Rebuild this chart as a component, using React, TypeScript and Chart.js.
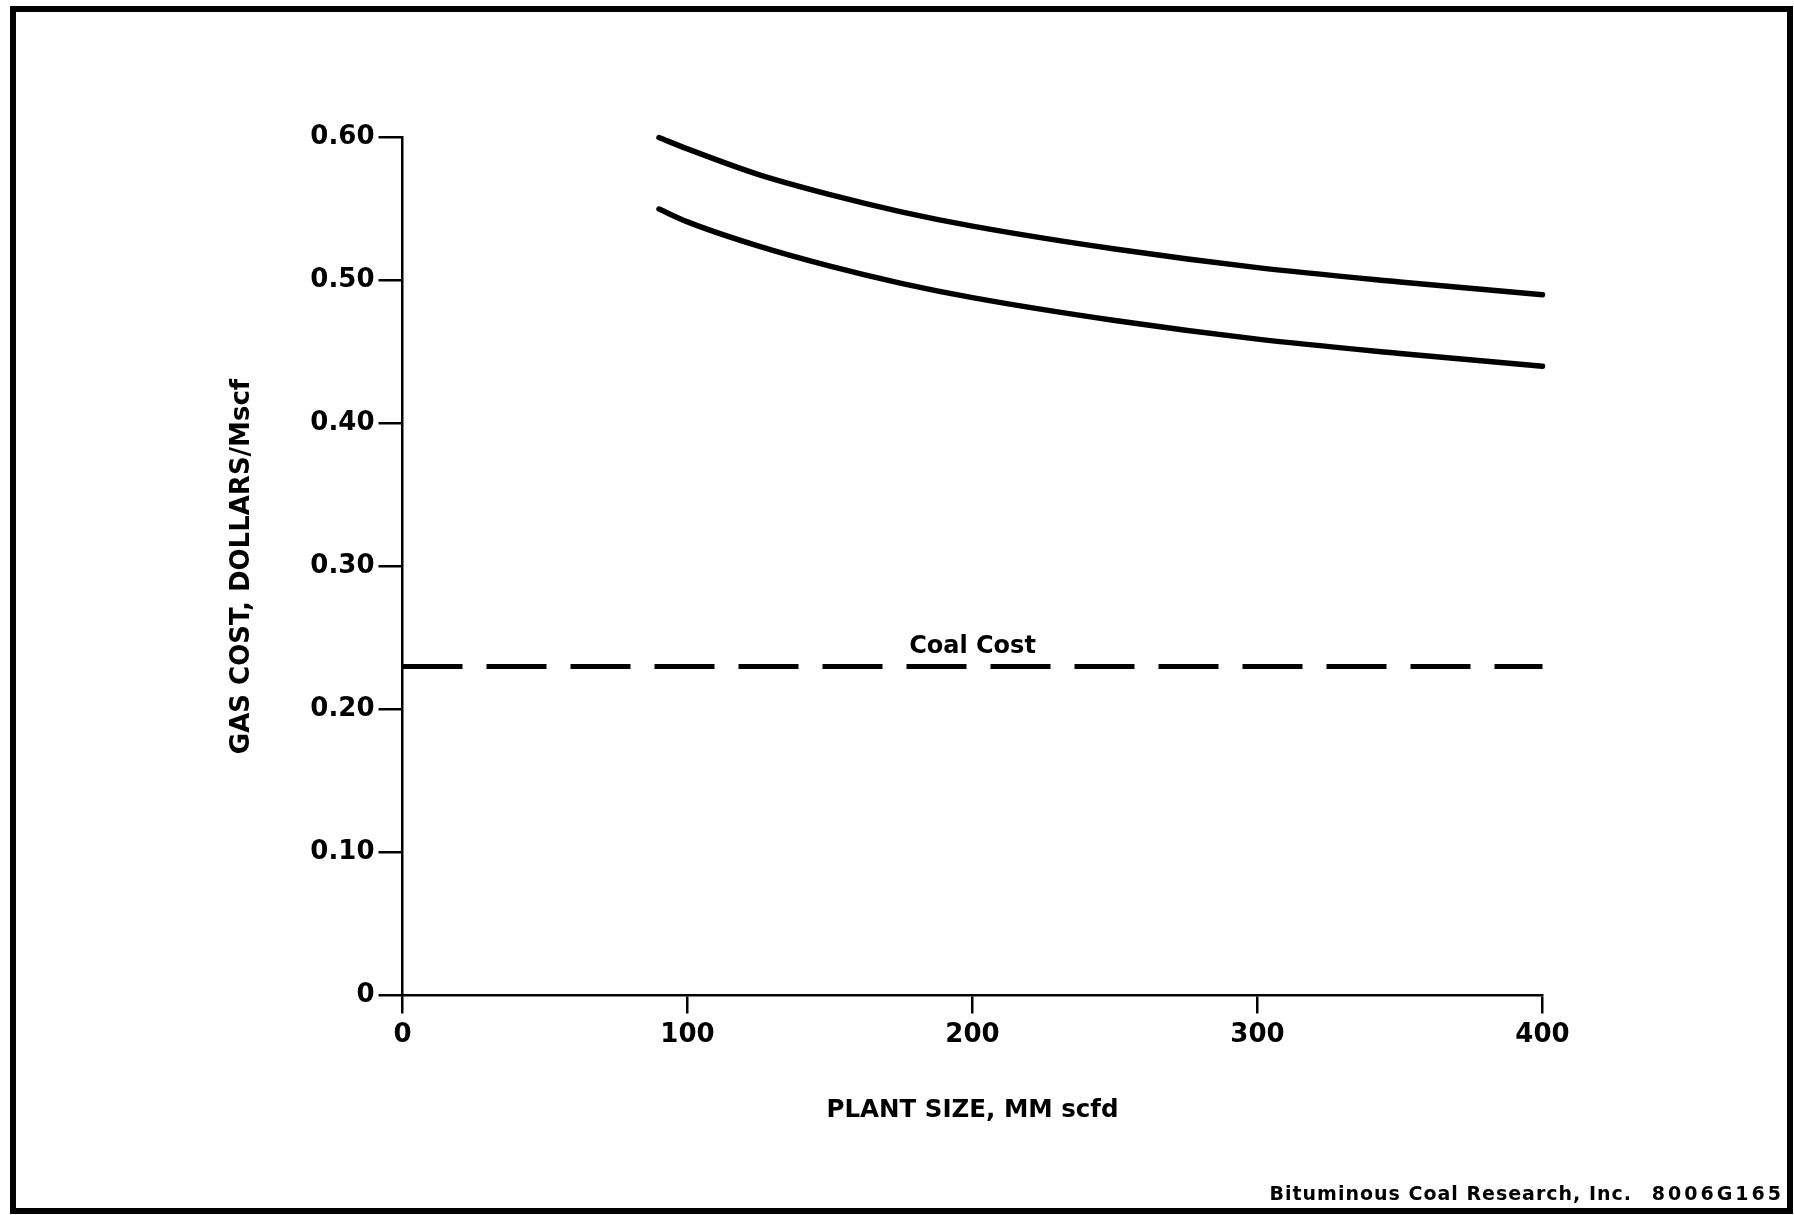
import React, { useEffect, useRef } from "react";
import { Chart, registerables } from "chart.js";

Chart.register(...registerables);

// Plant size (MM scfd) and gas cost (dollars/Mscf)
const upperSize = [90, 100, 125, 150, 175, 200, 250, 300, 350, 400];
const upperCost = [0.6, 0.592, 0.574, 0.56, 0.548, 0.538, 0.522, 0.509, 0.499, 0.49];
const lowerSize = [90, 100, 125, 150, 175, 200, 250, 300, 350, 400];
const lowerCost = [0.55, 0.541, 0.524, 0.51, 0.498, 0.488, 0.472, 0.459, 0.449, 0.44];
const coalSize = [0, 400];
const coalCost = [0.23, 0.23];

const xTickValues = [0, 100, 200, 300, 400];
const xTickLabels = ["0", "100", "200", "300", "400"];
const yTickValues = [0, 0.1, 0.2, 0.3, 0.4, 0.5, 0.6];
const yTickLabels = ["0", "0.10", "0.20", "0.30", "0.40", "0.50", "0.60"];

const xTitle = "PLANT SIZE, MM scfd";
const yTitle = "GAS COST, DOLLARS/Mscf";
const coalLabel = "Coal Cost";
const coalLabelAt = 200;
const footerText = "Bituminous Coal Research, Inc.";
const footerCode = "8006G165";

const FONT = "'DejaVu Sans', sans-serif";

function labelFor(values: number[], labels: string[], v: number) {
  for (let i = 0; i < values.length; i++) {
    if (Math.abs(values[i] - v) < 1e-6) return labels[i];
  }
  return "";
}

const decorPlugin = {
  id: "decor",
  afterDraw(chart: any) {
    const ctx = chart.ctx as CanvasRenderingContext2D;
    const xs = chart.scales.x;
    const ys = chart.scales.y;
    ctx.save();
    // Coal cost label
    ctx.fillStyle = "#000";
    ctx.font = `bold 24px ${FONT}`;
    ctx.textAlign = "center";
    ctx.textBaseline = "bottom";
    ctx.fillText(coalLabel, xs.getPixelForValue(coalLabelAt), ys.getPixelForValue(coalCost[0]) - 8);
    // Footer
    ctx.font = `bold 19px ${FONT}`;
    ctx.textAlign = "right";
    ctx.textBaseline = "alphabetic";
    (ctx as any).letterSpacing = "1px";
    ctx.fillText(footerText, 1632, 1200);
    (ctx as any).letterSpacing = "3px";
    ctx.fillText(footerCode, 1784, 1200);
    (ctx as any).letterSpacing = "0px";
    // Frame
    ctx.strokeStyle = "#000";
    ctx.lineWidth = 6;
    ctx.strokeRect(13, 9, 1777, 1202);
    ctx.restore();
  },
};

export default function App() {
  const ref = useRef<HTMLCanvasElement>(null);

  useEffect(() => {
    document.body.style.margin = "0";
    const canvas = ref.current;
    if (!canvas) return;
    const chart = new Chart(canvas, {
      type: "line",
      data: {
        datasets: [
          {
            data: upperSize.map((x, i) => ({ x, y: upperCost[i] })),
            borderColor: "#000",
            borderWidth: 5.5,
            borderCapStyle: "round",
            pointRadius: 0,
            cubicInterpolationMode: "monotone",
            clip: false,
          },
          {
            data: lowerSize.map((x, i) => ({ x, y: lowerCost[i] })),
            borderColor: "#000",
            borderWidth: 5.5,
            borderCapStyle: "round",
            pointRadius: 0,
            cubicInterpolationMode: "monotone",
            clip: false,
          },
          {
            data: coalSize.map((x, i) => ({ x, y: coalCost[i] })),
            borderColor: "#000",
            borderWidth: 5,
            borderDash: [60, 24],
            pointRadius: 0,
            clip: false,
          },
        ],
      } as any,
      options: {
        responsive: false,
        animation: false,
        devicePixelRatio: 1,
        layout: { padding: { left: 0, top: 137.5, right: 251.5, bottom: 0 } },
        plugins: {
          legend: { display: false },
          tooltip: { enabled: false },
        },
        scales: {
          x: {
            type: "linear",
            min: 0,
            max: 400,
            afterBuildTicks: (s: any) => {
              s.ticks = xTickValues.map((v) => ({ value: v }));
            },
            afterFit: (s: any) => {
              s.height = 219.5;
            },
            ticks: {
              color: "#000",
              font: { family: FONT, size: 26, weight: "bold" },
              padding: 6,
              maxRotation: 0,
              callback: (v: any) => labelFor(xTickValues, xTickLabels, Number(v)),
            },
            grid: {
              display: true,
              drawOnChartArea: false,
              drawTicks: true,
              tickLength: 18,
              color: "#000",
              lineWidth: 2.5,
            },
            border: { display: true, color: "#000", width: 2.5 },
            title: {
              display: true,
              text: xTitle,
              color: "#000",
              font: { family: FONT, size: 24.5, weight: "bold", lineHeight: 1.2 },
              padding: { top: 0, bottom: 90 },
            },
          },
          y: {
            type: "linear",
            min: 0,
            max: 0.6,
            afterBuildTicks: (s: any) => {
              s.ticks = yTickValues.map((v) => ({ value: v }));
            },
            afterFit: (s: any) => {
              s.width = 402.5;
            },
            ticks: {
              color: "#000",
              font: { family: FONT, size: 26, weight: "bold" },
              padding: 4,
              callback: (v: any) => labelFor(yTickValues, yTickLabels, Number(v)),
            },
            grid: {
              display: true,
              drawOnChartArea: false,
              drawTicks: true,
              tickLength: 24,
              color: "#000",
              lineWidth: 2.5,
            },
            border: { display: true, color: "#000", width: 2.5 },
            title: {
              display: true,
              text: yTitle,
              color: "#000",
              font: { family: FONT, size: 26, weight: "bold", lineHeight: 1.2 },
              padding: { top: 227, bottom: 0 },
            },
          },
        },
      } as any,
      plugins: [decorPlugin],
    });
    return () => chart.destroy();
  }, []);

  return (
    <canvas
      ref={ref}
      width={1794}
      height={1215}
      style={{ display: "block", width: 1794, height: 1215, background: "#fff" }}
    />
  );
}
